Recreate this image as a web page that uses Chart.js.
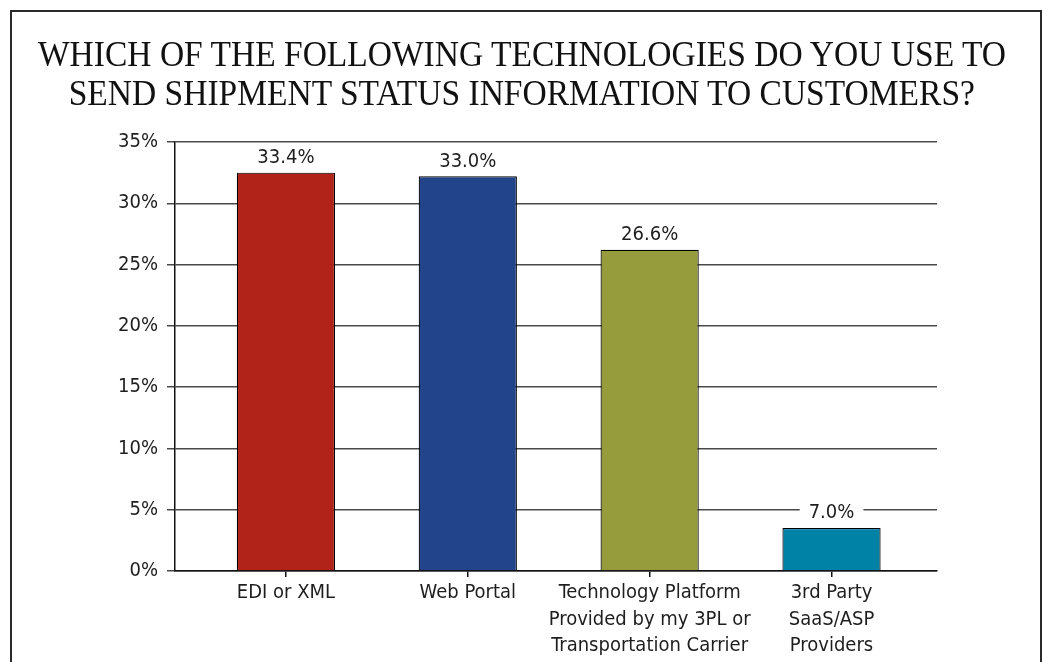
<!DOCTYPE html>
<html>
<head>
<meta charset="utf-8">
<script src="https://cdn.jsdelivr.net/npm/chart.js@4"></script>
<style>
html,body{margin:0;padding:0;background:#fff;}
#wrap{position:relative;width:1043px;height:662px;overflow:hidden;background:#fff;}
#frame{position:absolute;left:10px;top:10px;width:1032px;height:720px;border:2px solid #2a2a2a;box-sizing:border-box;}
#title{position:absolute;left:0;top:35px;width:1043px;text-align:center;font-family:"Liberation Serif","DejaVu Serif",serif;font-size:36px;line-height:39px;color:#111;}
#title div{display:block;}
#title span{display:inline-block;white-space:nowrap;transform-origin:50% 50%;}
#chart{position:absolute;left:0;top:0;}
</style>
</head>
<body>
<div id="wrap">
  <div id="frame"></div>
  <canvas id="chart" width="1043" height="662"></canvas>
  <div id="title">
    <div><span id="t1">WHICH OF THE FOLLOWING TECHNOLOGIES DO YOU USE TO</span></div>
    <div><span id="t2">SEND SHIPMENT STATUS INFORMATION TO CUSTOMERS?</span></div>
  </div>
</div>
<script>
// ---- data ----
const categories = [
  ["EDI or XML"],
  ["Web Portal"],
  ["Technology Platform", "Provided by my 3PL or", "Transportation Carrier"],
  ["3rd Party", "SaaS/ASP", "Providers"]
];
const barValues = [32.5, 32.2, 26.2, 3.5];
const valueLabels = ["33.4%", "33.0%", "26.6%", "7.0%"];
const barColors = ["#b12319", "#21448a", "#969b3b", "#0082a7"];
const yTickValues = [0, 5, 10, 15, 20, 25, 30, 35];

// ---- title width (condensed serif look) ----
(function(){
  const t1 = document.getElementById('t1');
  const t2 = document.getElementById('t2');
  const w = t1.getBoundingClientRect().width;
  const s = 968 / w;
  t1.style.transform = 'scaleX(' + s + ')';
  t2.style.transform = 'scaleX(' + s + ')';
})();

const SANS = '"Liberation Sans Narrow","DejaVu Sans Condensed","Liberation Sans",sans-serif';

const valueLabelPlugin = {
  id: 'valueLabels',
  afterDatasetsDraw(chart) {
    const ctx = chart.ctx;
    const meta = chart.getDatasetMeta(0);
    ctx.save();
    ctx.font = '20px ' + SANS;
    ctx.textAlign = 'center';
    ctx.textBaseline = 'middle';
    meta.data.forEach((bar, i) => {
      const t = valueLabels[i];
      const w = ctx.measureText(t).width;
      const cy = bar.y - 16;
      ctx.fillStyle = '#ffffff';
      ctx.fillRect(bar.x - w / 2 - 9, cy - 9, w + 18, 18);
      ctx.fillStyle = '#1e1e1e';
      ctx.fillText(t, bar.x, cy + 1);
    });
    ctx.restore();
  }
};

new Chart(document.getElementById('chart'), {
  type: 'bar',
  data: {
    datasets: [{
      data: barValues.map((v, i) => ({ x: i, y: v })),
      backgroundColor: barColors,
      borderColor: '#000',
      borderWidth: 1.2,
      barPercentage: 0.54,
      categoryPercentage: 1
    }]
  },
  options: {
    responsive: false,
    animation: false,
    layout: { padding: { top: 142, right: 106, bottom: 0, left: 0 } },
    plugins: { legend: { display: false }, tooltip: { enabled: false }, title: { display: false } },
    scales: {
      x: {
        type: 'linear',
        min: -0.61,
        max: 3.58,
        offset: false,
        afterBuildTicks: s => { s.ticks = categories.map((_, i) => ({ value: i })); },
        afterFit: s => { s.height = 91; },
        ticks: {
          callback: v => categories[v],
          font: { family: SANS, size: 20, lineHeight: 1.32 },
          color: '#1e1e1e',
          padding: 3,
          maxRotation: 0,
          autoSkip: false
        },
        grid: { drawOnChartArea: false, drawTicks: true, tickLength: 6, color: '#111', lineWidth: 1.5, offset: false },
        border: { color: '#111', width: 1.5 }
      },
      y: {
        min: 0,
        max: 35,
        afterBuildTicks: s => { s.ticks = yTickValues.map(v => ({ value: v })); },
        afterFit: s => { s.width = 175; },
        ticks: {
          callback: v => v + '%',
          font: { family: SANS, size: 20 },
          color: '#1e1e1e',
          padding: 9
        },
        grid: { color: '#4a4a4a', lineWidth: 1.5, tickLength: 8 },
        border: { color: '#111', width: 1.5 }
      }
    }
  },
  plugins: [valueLabelPlugin]
});
</script>
</body>
</html>
